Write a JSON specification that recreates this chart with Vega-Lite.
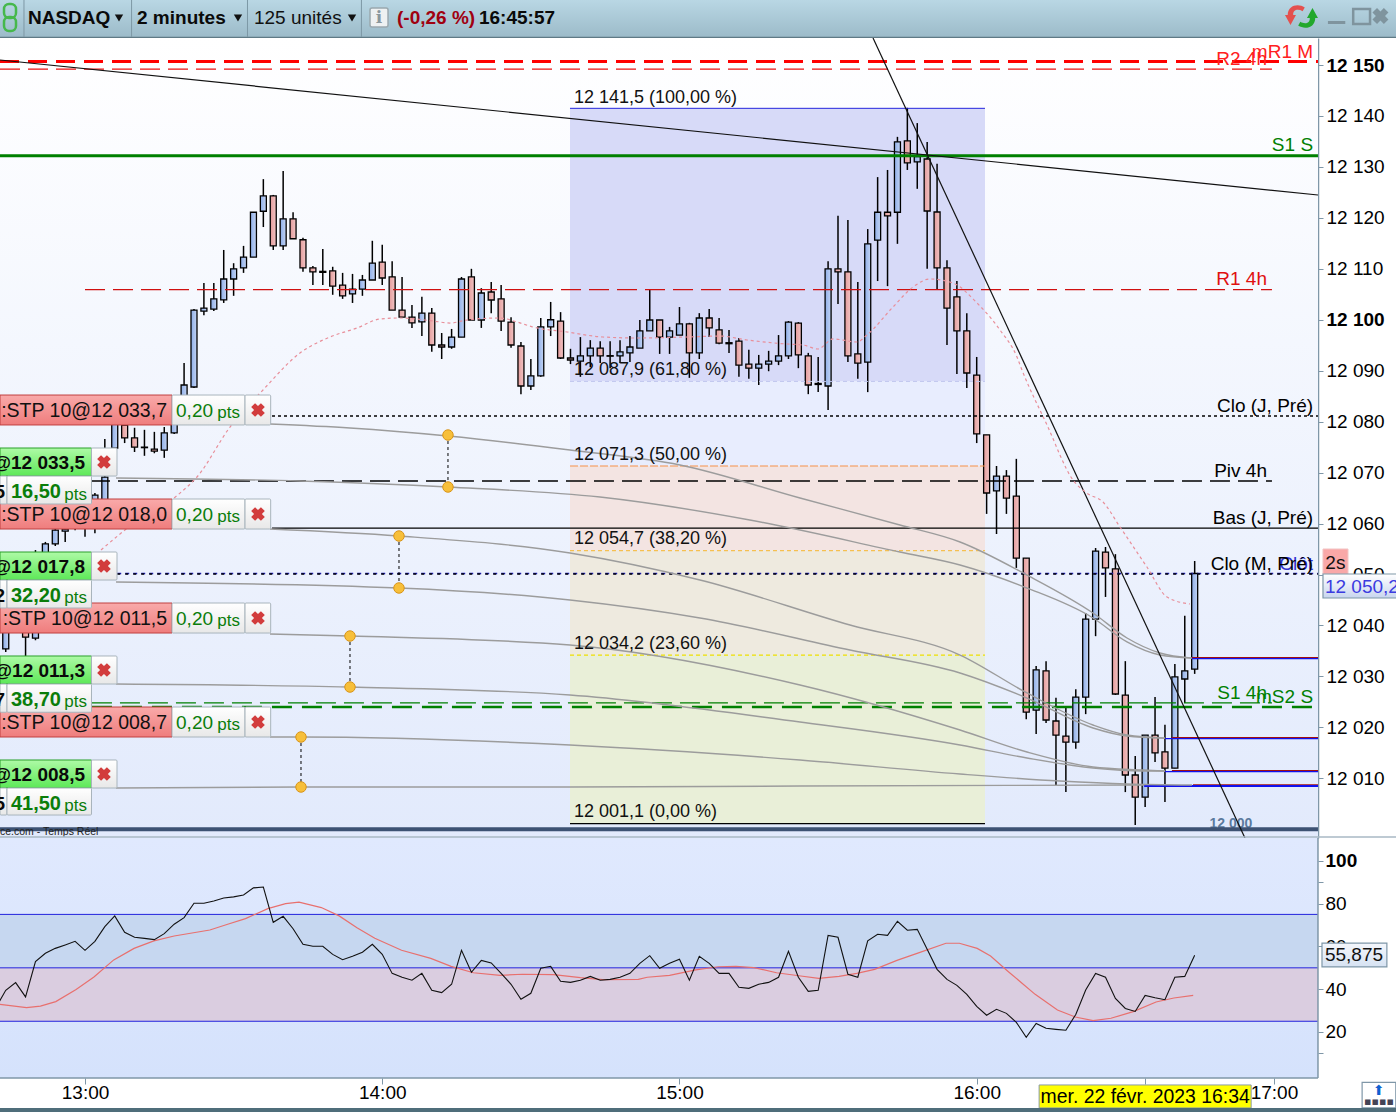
{"$schema":"https://vega.github.io/schema/vega-lite/v6.json","padding":0,"spacing":0,"bounds":"flush","background":"white",
"resolve":{"scale":{"color":"independent","strokeWidth":"independent","strokeDash":"independent"}},
"config":{"view":{"stroke":null},"font":"Liberation Sans","text":{"font":"Liberation Sans","fontSize":19},"axis":{"labelFont":"Liberation Sans"}},
"datasets":{
"candles":[
{"m":764,"o":12035.4,"h":12039.5,"l":12034.8,"c":12038.7},{"m":766,"o":12043.0,"h":12043.8,"l":12038.7,"c":12039.1},{"m":768,"o":12038.7,"h":12041.1,"l":12034.0,"c":12037.7},{"m":770,"o":12037.5,"h":12054.8,"l":12037.1,"c":12040.1},{"m":772,"o":12045.0,"h":12056.4,"l":12044.0,"c":12056.0},{"m":774,"o":12056.0,"h":12059.7,"l":12055.6,"c":12058.7},{"m":776,"o":12058.5,"h":12061.7,"l":12056.4,"c":12058.9},{"m":778,"o":12062.7,"h":12063.6,"l":12058.7,"c":12059.7},{"m":780,"o":12063.6,"h":12064.6,"l":12057.4,"c":12059.7},{"m":782,"o":12060.7,"h":12066.0,"l":12058.1,"c":12065.6},{"m":784,"o":12062.7,"h":12076.6,"l":12061.7,"c":12069.1},{"m":786,"o":12074.8,"h":12082.1,"l":12074.4,"c":12080.7},{"m":788,"o":12079.35,"h":12080.3,"l":12075.8,"c":12076.8},{"m":790,"o":12076.8,"h":12078.8,"l":12074.05,"c":12075.0},{"m":792,"o":12075.0,"h":12078.4,"l":12073.3,"c":12074.9},{"m":794,"o":12074.6,"h":12078.0,"l":12073.8,"c":12074.2},{"m":796,"o":12074.4,"h":12078.95,"l":12072.9,"c":12077.8},{"m":798,"o":12077.8,"h":12080.7,"l":12077.6,"c":12079.7},{"m":800,"o":12084.25,"h":12091.5,"l":12083.9,"c":12087.2},
{"m":802,"o":12086.8,"h":12102.1,"l":12086.6,"c":12101.9},{"m":804,"o":12101.7,"h":12107.2,"l":12100.9,"c":12102.3},{"m":806,"o":12102.1,"h":12107.2,"l":12101.7,"c":12104.1},{"m":808,"o":12103.9,"h":12113.7,"l":12103.3,"c":12108.0},{"m":810,"o":12108.0,"h":12111.1,"l":12104.7,"c":12110.0},{"m":812,"o":12110.2,"h":12114.5,"l":12109.2,"c":12112.3},{"m":814,"o":12112.3,"h":12121.1,"l":12112.3,"c":12121.1},{"m":816,"o":12121.3,"h":12127.6,"l":12118.2,"c":12124.3},{"m":818,"o":12124.3,"h":12124.5,"l":12113.7,"c":12114.5},{"m":820,"o":12114.5,"h":12129.2,"l":12113.7,"c":12119.8},{"m":822,"o":12119.8,"h":12121.1,"l":12115.9,"c":12115.9},{"m":824,"o":12115.7,"h":12116.1,"l":12109.4,"c":12110.2},{"m":826,"o":12110.2,"h":12110.55,"l":12106.8,"c":12109.4},{"m":828,"o":12109.5,"h":12113.9,"l":12106.8,"c":12109.3},{"m":830,"o":12109.6,"h":12110.4,"l":12104.9,"c":12106.6},{"m":832,"o":12106.8,"h":12109.2,"l":12104.1,"c":12104.7},{"m":834,"o":12105.1,"h":12109.0,"l":12103.3,"c":12106.0},{"m":836,"o":12106.0,"h":12108.8,"l":12104.7,"c":12107.8},{"m":838,"o":12107.8,"h":12115.5,"l":12107.8,"c":12111.1},{"m":840,"o":12111.3,"h":12114.7,"l":12106.8,"c":12108.2},{"m":842,"o":12108.4,"h":12111.5,"l":12101.9,"c":12101.9},{"m":844,"o":12101.9,"h":12108.4,"l":12100.5,"c":12100.5},{"m":846,"o":12100.5,"h":12102.9,"l":12098.4,"c":12099.4},{"m":848,"o":12099.6,"h":12104.5,"l":12096.8,"c":12101.3},{"m":850,"o":12101.3,"h":12102.3,"l":12093.7,"c":12095.05},{"m":852,"o":12095.05,"h":12097.4,"l":12092.3,"c":12094.65},{"m":854,"o":12094.65,"h":12098.2,"l":12094.3,"c":12096.6},{"m":856,"o":12096.6,"h":12108.4,"l":12096.6,"c":12108.0},{"m":858,"o":12108.4,"h":12110.0,"l":12099.95,"c":12099.95},{"m":860,"o":12099.95,"h":12106.2,"l":12098.4,"c":12105.25},{"m":862,"o":12105.45,"h":12107.4,"l":12101.3,"c":12103.88},{"m":864,"o":12104.1,"h":12106.8,"l":12097.8,"c":12099.75},{"m":866,"o":12099.55,"h":12100.5,"l":12094.5,"c":12095.05},{"m":868,"o":12094.85,"h":12095.65,"l":12085.4,"c":12087.0},{"m":870,"o":12087.0,"h":12092.3,"l":12086.2,"c":12089.0},{"m":872,"o":12089.0,"h":12100.35,"l":12088.8,"c":12098.6},{"m":874,"o":12098.6,"h":12103.5,"l":12096.8,"c":12100.0},{"m":876,"o":12099.75,"h":12101.5,"l":12092.3,"c":12092.5},{"m":878,"o":12092.5,"h":12094.3,"l":12091.3,"c":12092.1},{"m":880,"o":12091.9,"h":12096.6,"l":12088.8,"c":12092.9},{"m":882,"o":12092.9,"h":12096.0,"l":12090.7,"c":12094.45},{"m":884,"o":12094.45,"h":12095.8,"l":12091.5,"c":12092.9},{"m":886,"o":12092.95,"h":12095.8,"l":12090.5,"c":12092.85},{"m":888,"o":12092.9,"h":12096.0,"l":12091.5,"c":12093.7},{"m":890,"o":12093.5,"h":12096.8,"l":12091.7,"c":12094.65},{"m":892,"o":12094.45,"h":12099.95,"l":12094.45,"c":12097.8},{"m":894,"o":12097.8,"h":12106.0,"l":12097.8,"c":12099.95},{"m":896,"o":12099.95,"h":12099.95,"l":12093.3,"c":12096.6},{"m":898,"o":12096.6,"h":12098.6,"l":12093.3,"c":12097.8},{"m":900,"o":12097.0,"h":12102.5,"l":12097.0,"c":12099.2},{"m":902,"o":12099.2,"h":12099.4,"l":12088.6,"c":12093.5},{"m":904,"o":12093.5,"h":12101.3,"l":12092.3,"c":12100.35},{"m":906,"o":12100.35,"h":12102.1,"l":12096.6,"c":12098.4},{"m":908,"o":12098.0,"h":12100.35,"l":12095.2,"c":12095.4},{"m":910,"o":12095.5,"h":12098.0,"l":12093.5,"c":12095.3},{"m":912,"o":12095.8,"h":12096.4,"l":12088.8,"c":12091.1},{"m":914,"o":12091.3,"h":12094.1,"l":12088.4,"c":12090.5},{"m":916,"o":12090.5,"h":12093.1,"l":12087.2,"c":12091.3},{"m":918,"o":12091.3,"h":12093.9,"l":12089.9,"c":12091.9},{"m":920,"o":12091.9,"h":12097.0,"l":12091.1,"c":12092.9},{"m":922,"o":12092.9,"h":12099.75,"l":12092.3,"c":12099.55},{"m":924,"o":12099.35,"h":12099.55,"l":12090.5,"c":12093.1},{"m":926,"o":12092.9,"h":12093.5,"l":12085.4,"c":12087.2},{"m":928,"o":12087.5,"h":12092.7,"l":12085.8,"c":12087.3},{"m":930,"o":12087.0,"h":12111.5,"l":12082.3,"c":12110.0},{"m":932,"o":12110.0,"h":12120.4,"l":12103.1,"c":12109.4},{"m":934,"o":12109.4,"h":12119.6,"l":12091.7,"c":12092.9},{"m":936,"o":12093.3,"h":12107.4,"l":12088.4,"c":12091.5},{"m":938,"o":12091.7,"h":12117.8,"l":12085.8,"c":12114.9},{"m":940,"o":12115.65,"h":12128.0,"l":12107.6,"c":12121.1},{"m":942,"o":12121.1,"h":12129.4,"l":12106.6,"c":12120.4},{"m":944,"o":12121.1,"h":12135.9,"l":12114.9,"c":12134.9},{"m":946,"o":12135.1,"h":12141.6,"l":12129.4,"c":12130.8},{"m":948,"o":12131.0,"h":12138.6,"l":12125.7,"c":12132.0},{"m":950,"o":12131.55,"h":12134.9,"l":12110.0,"c":12121.35},{"m":952,"o":12121.15,"h":12130.6,"l":12106.0,"c":12110.2},{"m":954,"o":12110.2,"h":12111.7,"l":12095.05,"c":12102.3},{"m":956,"o":12104.5,"h":12107.6,"l":12089.35,"c":12097.8},{"m":958,"o":12097.8,"h":12101.3,"l":12086.6,"c":12089.55},{"m":960,"o":12089.15,"h":12092.7,"l":12075.8,"c":12077.6},{"m":962,"o":12077.4,"h":12077.4,"l":12061.9,"c":12066.0},{"m":964,"o":12066.4,"h":12071.3,"l":12057.95,"c":12069.3},{"m":966,"o":12069.3,"h":12070.5,"l":12061.9,"c":12065.0},{"m":968,"o":12065.4,"h":12072.7,"l":12051.3,"c":12053.2},{"m":970,"o":12053.2,"h":12053.2,"l":12021.6,"c":12023.0},{"m":972,"o":12023.4,"h":12032.05,"l":12018.7,"c":12031.3},{"m":974,"o":12031.1,"h":12033.0,"l":12020.85,"c":12021.45},{"m":976,"o":12021.25,"h":12025.8,"l":12008.7,"c":12018.5},{"m":978,"o":12018.3,"h":12023.8,"l":12007.3,"c":12017.1},{"m":980,"o":12017.1,"h":12027.5,"l":12015.8,"c":12025.95},{"m":982,"o":12025.95,"h":12042.45,"l":12022.6,"c":12041.25},{"m":984,"o":12041.25,"h":12055.2,"l":12037.9,"c":12054.6},{"m":986,"o":12054.4,"h":12055.4,"l":12045.6,"c":12051.3},{"m":988,"o":12051.1,"h":12054.0,"l":12026.35,"c":12026.55},{"m":990,"o":12026.35,"h":12033.0,"l":12007.3,"c":12010.65},{"m":992,"o":12010.65,"h":12014.4,"l":12000.85,"c":12006.3},{"m":994,"o":12006.3,"h":12018.5,"l":12004.35,"c":12018.5},{"m":996,"o":12018.5,"h":12025.95,"l":12013.2,"c":12015.0},{"m":998,"o":12015.2,"h":12020.5,"l":12005.35,"c":12012.0},{"m":1000,"o":12012.0,"h":12032.45,"l":12012.0,"c":12029.9},{"m":1002,"o":12029.5,"h":12041.9,"l":12024.8,"c":12031.1},{"m":1004,"o":12031.45,"h":12052.65,"l":12030.5,"c":12050.2}],
"levels":[
{"name":"mR1 M","m":762.84,"m2":1028.89,"p":12150.7},{"name":"R2 4h","m":762.84,"m2":1019.6,"p":12149.2},{"name":"S1 S","m":762.84,"m2":1028.89,"p":12132.2},{"name":"R1 4h","m":780,"m2":1019.6,"p":12105.9},{"name":"Clo J","m":817.75,"m2":1028.89,"p":12081.1},{"name":"Piv 4h","m":781,"m2":1019.6,"p":12068.35},{"name":"Bas J","m":817.75,"m2":1028.89,"p":12059.1},{"name":"Clot","m":786.5,"m2":1028.89,"p":12050.2},{"name":"Clo M","m":786.5,"m2":1028.89,"p":12050.1},{"name":"S1 4h","m":781.4,"m2":1019.6,"p":12024.8},{"name":"mS2 S","m":781.4,"m2":1028.89,"p":12024.0},{"name":"base","m":762.84,"m2":1028.89,"p":12000.0},
{"name":"fib100","m":877.9,"m2":961.67,"p":12141.5},{"name":"fib618","m":877.9,"m2":961.67,"p":12087.9},{"name":"fib50","m":877.9,"m2":961.67,"p":12071.3},{"name":"fib382","m":877.9,"m2":961.67,"p":12054.7},{"name":"fib236","m":877.9,"m2":961.67,"p":12034.2},{"name":"fib0","m":877.9,"m2":961.67,"p":12001.1},
{"name":"o1r","m":1003.46,"m2":1028.89,"p":12033.7},{"name":"o1b","m":1003.46,"m2":1028.89,"p":12033.5},{"name":"o2r","m":999.4,"m2":1028.89,"p":12018.0},{"name":"o2b","m":998,"m2":1028.89,"p":12017.8},{"name":"o3r","m":999.4,"m2":1028.89,"p":12011.5},{"name":"o3b","m":998,"m2":1028.89,"p":12011.3},{"name":"o4r","m":1003.66,"m2":1028.89,"p":12008.7},{"name":"o4b","m":993.8,"m2":1028.89,"p":12008.5}],
"curves":[
{"id":"A","m":817.34,"p":12079.54},{"id":"A","m":833.49,"p":12078.76},{"id":"A","m":853.27,"p":12077.19},{"id":"A","m":877.9,"p":12074.44},{"id":"A","m":900.1,"p":12071.5},{"id":"A","m":924.33,"p":12065.02},{"id":"A","m":944.5,"p":12059.72},{"id":"A","m":956.63,"p":12056.38},{"id":"A","m":970.15,"p":12049.9},{"id":"A","m":983.48,"p":12042.45},{"id":"A","m":990.34,"p":12037.54},{"id":"A","m":997.0,"p":12034.6},{"id":"A","m":1003.46,"p":12033.6},
{"id":"B","m":786.26,"p":12068.94},{"id":"B","m":823.4,"p":12068.35},{"id":"B","m":853.27,"p":12067.18},{"id":"B","m":883.96,"p":12065.21},{"id":"B","m":914.2,"p":12060.7},{"id":"B","m":944.5,"p":12054.42},{"id":"B","m":956.63,"p":12051.87},{"id":"B","m":970.15,"p":12047.35},{"id":"B","m":983.48,"p":12041.47},{"id":"B","m":990.34,"p":12036.76},{"id":"B","m":997.0,"p":12034.2},{"id":"B","m":1003.46,"p":12033.6},
{"id":"C","m":817.34,"p":12058.93},{"id":"C","m":843.38,"p":12057.56},{"id":"C","m":877.9,"p":12054.22},{"id":"C","m":904.14,"p":12048.92},{"id":"C","m":934.42,"p":12040.09},{"id":"C","m":956.63,"p":12034.2},{"id":"C","m":970.15,"p":12026.75},{"id":"C","m":983.48,"p":12020.47},{"id":"C","m":990.34,"p":12018.5},{"id":"C","m":998.0,"p":12017.9},
{"id":"D","m":786.26,"p":12048.53},{"id":"D","m":843.38,"p":12047.36},{"id":"D","m":877.9,"p":12045.0},{"id":"D","m":904.14,"p":12041.47},{"id":"D","m":934.42,"p":12035.18},{"id":"D","m":956.63,"p":12030.67},{"id":"D","m":970.15,"p":12025.76},{"id":"D","m":983.48,"p":12019.88},{"id":"D","m":990.34,"p":12018.3},{"id":"D","m":998.0,"p":12017.9},
{"id":"E","m":817.34,"p":12038.33},{"id":"E","m":833.49,"p":12037.93},{"id":"E","m":877.9,"p":12036.17},{"id":"E","m":924.33,"p":12028.32},{"id":"E","m":956.63,"p":12019.48},{"id":"E","m":970.15,"p":12015.16},{"id":"E","m":983.48,"p":12012.22},{"id":"E","m":993.57,"p":12011.63},{"id":"E","m":998.0,"p":12011.43},
{"id":"F","m":786.26,"p":12028.51},{"id":"F","m":833.49,"p":12027.92},{"id":"F","m":877.9,"p":12026.36},{"id":"F","m":924.33,"p":12021.05},{"id":"F","m":956.63,"p":12016.54},{"id":"F","m":970.15,"p":12013.99},{"id":"F","m":983.48,"p":12012.03},{"id":"F","m":993.57,"p":12011.43},{"id":"F","m":998.0,"p":12011.43},
{"id":"G","m":817.34,"p":12018.11},{"id":"G","m":823.6,"p":12018.11},{"id":"G","m":877.9,"p":12016.54},{"id":"G","m":924.33,"p":12013.6},{"id":"G","m":956.63,"p":12010.85},{"id":"G","m":976.81,"p":12009.47},{"id":"G","m":990.34,"p":12008.88},{"id":"G","m":1003.46,"p":12008.69},
{"id":"H","m":786.26,"p":12008.1},{"id":"H","m":823.6,"p":12008.3},{"id":"H","m":877.9,"p":12008.3},{"id":"H","m":924.33,"p":12008.49},{"id":"H","m":993.77,"p":12008.69}],
"ma":[{"m":783.23,"p":12054.81},{"m":788.07,"p":12058.74},{"m":799.17,"p":12065.98},{"m":802.6,"p":12069.14},{"m":809.27,"p":12078.95},{"m":815.93,"p":12086.22},{"m":823.4,"p":12093.48},{"m":829.45,"p":12096.62},{"m":834.9,"p":12098.38},{"m":839.55,"p":12100.15},{"m":843.58,"p":12100.35},{"m":850.25,"p":12099.76},{"m":853.68,"p":12099.36},{"m":857.11,"p":12099.95},{"m":863.77,"p":12100.35},{"m":867.2,"p":12099.56},{"m":870.43,"p":12098.58},{"m":877.3,"p":12097.6},{"m":884.56,"p":12096.62},{"m":891.43,"p":12096.42},{"m":901.52,"p":12096.62},{"m":908.18,"p":12096.81},{"m":913.63,"p":12096.03},{"m":921.7,"p":12095.24},{"m":924.93,"p":12095.05},{"m":927.96,"p":12094.26},{"m":930.99,"p":12096.23},{"m":935.83,"p":12095.64},{"m":937.85,"p":12097.01},{"m":943.1,"p":12102.51},{"m":947.14,"p":12106.43},{"m":950.57,"p":12108.0},{"m":955.2,"p":12107.22},{"m":960.06,"p":12103.29},{"m":964.7,"p":12098.0},{"m":968.13,"p":12092.69},{"m":969.14,"p":12090.14},{"m":974.19,"p":12079.35},{"m":979.44,"p":12068.55},{"m":982.26,"p":12065.96},{"m":985.49,"p":12064.23},{"m":988.92,"p":12059.33},{"m":994.37,"p":12051.47},{"m":998.41,"p":12045.59},{"m":1003.05,"p":12044.21}],
"rsi":[{"m":762,"p":31.4},{"m":764,"p":39.5},{"m":766,"p":43.1},{"m":768,"p":36.4},{"m":770,"p":52.9},{"m":772,"p":56.8},{"m":774,"p":59.1},{"m":776,"p":60.7},{"m":778,"p":62.4},{"m":780,"p":58.2},{"m":782,"p":62.4},{"m":784,"p":69.3},{"m":786,"p":74.3},{"m":788,"p":66.6},{"m":790,"p":64.3},{"m":792,"p":63.8},{"m":794,"p":63.2},{"m":796,"p":66.0},{"m":798,"p":70.4},{"m":800,"p":73.5},{"m":802,"p":80.2},{"m":804,"p":80.2},{"m":806,"p":81.3},{"m":808,"p":82.7},{"m":810,"p":83.2},{"m":812,"p":84.1},{"m":814,"p":87.4},{"m":816,"p":87.8},{"m":818,"p":71.3},{"m":820,"p":74.1},{"m":822,"p":68.3},{"m":824,"p":61.0},{"m":826,"p":60.1},{"m":828,"p":60.1},{"m":830,"p":56.3},{"m":832,"p":53.8},{"m":834,"p":55.4},{"m":836,"p":57.3},{"m":838,"p":61.0},{"m":840,"p":56.3},{"m":842,"p":47.4},{"m":844,"p":45.6},{"m":846,"p":44.2},{"m":848,"p":47.4},{"m":850,"p":39.5},{"m":852,"p":38.4},{"m":854,"p":42.3},{"m":856,"p":58.2},{"m":858,"p":47.9},{"m":860,"p":53.5},{"m":862,"p":52.3},{"m":864,"p":47.4},{"m":866,"p":42.3},{"m":868,"p":35.3},{"m":870,"p":38.1},{"m":872,"p":49.8},{"m":874,"p":50.7},{"m":876,"p":43.7},{"m":878,"p":43.2},{"m":880,"p":44.2},{"m":882,"p":46.0},{"m":884,"p":44.2},{"m":886,"p":44.6},{"m":888,"p":45.6},{"m":890,"p":47.4},{"m":892,"p":52.1},{"m":894,"p":55.7},{"m":896,"p":49.8},{"m":898,"p":52.1},{"m":900,"p":54.0},{"m":902,"p":44.2},{"m":904,"p":55.4},{"m":906,"p":52.1},{"m":908,"p":47.4},{"m":910,"p":47.4},{"m":912,"p":40.9},{"m":914,"p":40.4},{"m":916,"p":42.3},{"m":918,"p":43.2},{"m":920,"p":45.6},{"m":922,"p":57.7},{"m":924,"p":45.6},{"m":926,"p":39.0},{"m":928,"p":39.5},{"m":930,"p":65.2},{"m":932,"p":64.3},{"m":934,"p":47.0},{"m":936,"p":45.6},{"m":938,"p":62.6},{"m":940,"p":65.7},{"m":942,"p":65.2},{"m":944,"p":71.8},{"m":946,"p":67.6},{"m":948,"p":68.0},{"m":950,"p":58.7},{"m":952,"p":49.3},{"m":954,"p":44.6},{"m":956,"p":41.8},{"m":958,"p":37.6},{"m":960,"p":32.0},{"m":962,"p":27.8},{"m":964,"p":30.6},{"m":966,"p":28.7},{"m":968,"p":24.5},{"m":970,"p":17.5},{"m":972,"p":24.0},{"m":974,"p":21.7},{"m":976,"p":21.2},{"m":978,"p":20.8},{"m":980,"p":28.2},{"m":982,"p":39.6},{"m":984,"p":47.4},{"m":986,"p":45.6},{"m":988,"p":35.7},{"m":990,"p":31.0},{"m":992,"p":29.6},{"m":994,"p":37.1},{"m":996,"p":36.0},{"m":998,"p":35.1},{"m":1000,"p":45.6},{"m":1002,"p":46.0},{"m":1004,"p":55.875}],
"rsiMa":[{"m":762.8,"p":32.9},{"m":768.2,"p":31.4},{"m":771.0,"p":32.1},{"m":774.1,"p":34.2},{"m":778.2,"p":39.9},{"m":781.8,"p":45.7},{"m":785.8,"p":53.7},{"m":789.9,"p":59.1},{"m":793.9,"p":62.6},{"m":798.0,"p":64.9},{"m":801.6,"p":66.3},{"m":805.2,"p":67.7},{"m":808.8,"p":70.4},{"m":812.4,"p":73.0},{"m":816.9,"p":77.7},{"m":820.5,"p":80.0},{"m":823.2,"p":80.7},{"m":827.7,"p":78.2},{"m":831.3,"p":74.3},{"m":834.9,"p":68.8},{"m":838.5,"p":63.8},{"m":843.9,"p":58.2},{"m":849.8,"p":54.4},{"m":853.9,"p":50.7},{"m":858.4,"p":47.7},{"m":863.8,"p":46.5},{"m":868.3,"p":47.0},{"m":874.6,"p":46.8},{"m":880.0,"p":45.4},{"m":884.5,"p":44.5},{"m":891.7,"p":44.6},{"m":893.5,"p":45.6},{"m":898.0,"p":46.5},{"m":903.3,"p":49.0},{"m":907.8,"p":50.5},{"m":911.4,"p":50.7},{"m":915.0,"p":50.1},{"m":919.6,"p":47.7},{"m":924.1,"p":46.3},{"m":928.1,"p":45.1},{"m":932.2,"p":46.0},{"m":935.8,"p":47.4},{"m":939.4,"p":49.3},{"m":943.9,"p":53.5},{"m":948.4,"p":57.1},{"m":953.8,"p":61.5},{"m":956.5,"p":61.5},{"m":960.1,"p":59.1},{"m":962.8,"p":55.5},{"m":966.4,"p":48.2},{"m":971.8,"p":37.6},{"m":976.3,"p":30.3},{"m":979.9,"p":27.0},{"m":983.5,"p":25.3},{"m":987.1,"p":26.4},{"m":991.6,"p":29.5},{"m":996.2,"p":34.0},{"m":999.8,"p":35.9},{"m":1003.7,"p":37.1}]
},
"vconcat":[
{"width":1396,"height":38,
"encoding":{"x":{"field":"m","type":"quantitative","scale":{"domain":[762.84,1044.64],"nice":false,"zero":false},"axis":null},"y":{"field":"v","type":"quantitative","scale":{"domain":[38,0],"nice":false,"zero":false},"axis":null}},
"layer":[
{"data":{"values":[{"m":762.84,"m2":1044.64,"v":0,"v2":37}]},"mark":{"type":"rect","fill":{"gradient":"linear","x1":0,"y1":0,"x2":0,"y2":1,"stops":[{"offset":0,"color":"#b9d7e4"},{"offset":1,"color":"#9cbbc9"}]}},"encoding":{"x2":{"field":"m2"},"y2":{"field":"v2"}}},
{"data":{"values":[{"m":762.84,"m2":1044.64,"v":37.5}]},"mark":{"type":"rule","color":"#5f7a85","strokeWidth":1.5,"clip":true},"encoding":{"x2":{"field":"m2"}}},
{"data":{"values":[{"m":767.68,"v":0,"v2":37},{"m":789.4,"v":0,"v2":37},{"m":812.8,"v":0,"v2":37},{"m":835.8,"v":0,"v2":37}]},"mark":{"type":"rule","color":"#7d98a5","strokeWidth":1,"clip":true},"encoding":{"y2":{"field":"v2"}}},
{"data":{"values":[{"m":763.65,"m2":766.07,"v":4,"v2":18},{"m":763.65,"m2":766.07,"v":17,"v2":31}]},"mark":{"type":"rect","fillOpacity":0,"stroke":"#46b84c","strokeWidth":2.5,"cornerRadius":5},"encoding":{"x2":{"field":"m2"},"y2":{"field":"v2"}}},
{"data":{"values":[{"t":"NASDAQ","m":768.49,"v":18},{"t":"2 minutes","m":790.5,"v":18},{"t":"16:45:57","m":859.53,"v":18}]},"mark":{"type":"text","align":"left","baseline":"middle","fontWeight":"bold","fontSize":19,"color":"#0a0a0a"},"encoding":{"text":{"field":"t"}}},
{"data":{"values":[{"t":"125 unités","m":814.11,"v":18}]},"mark":{"type":"text","align":"left","baseline":"middle","fontSize":19,"color":"#111"},"encoding":{"text":{"field":"t"}}},
{"data":{"values":[{"t":"(-0,26 %)","m":842.98,"v":18}]},"mark":{"type":"text","align":"left","baseline":"middle","fontWeight":"bold","fontSize":19,"color":"#a00010"},"encoding":{"text":{"field":"t"}}},
{"data":{"values":[{"m":786.86,"v":18},{"m":810.88,"v":18},{"m":833.9,"v":18}]},"mark":{"type":"point","shape":"triangle-down","filled":true,"size":70,"color":"#111","opacity":1}},
{"data":{"values":[{"m":837.53,"m2":841.17,"v":8,"v2":27}]},"mark":{"type":"rect","fill":"#eef1f2","stroke":"#9aa8ae","strokeWidth":1.5,"cornerRadius":2},"encoding":{"x2":{"field":"m2"},"y2":{"field":"v2"}}},
{"data":{"values":[{"t":"i","m":839.35,"v":18}]},"mark":{"type":"text","align":"center","baseline":"middle","fontWeight":"bold","fontSize":17,"font":"DejaVu Serif","color":"#8a979d"},"encoding":{"text":{"field":"t"}}},
{"data":{"values":[{"m":1024.45,"v":14}]},"mark":{"type":"point","shape":"M-1,0.1 L0,0.1 L-0.5,1 Z M-0.75,0.1 C-0.75,-0.8 0.2,-1 0.8,-0.6 L0.6,-0.25 C0.2,-0.5 -0.3,-0.4 -0.25,0.1 Z","filled":true,"size":484,"color":"#e4504e","opacity":1}},
{"data":{"values":[{"m":1026.67,"v":19}]},"mark":{"type":"point","shape":"M1,-0.1 L0,-0.1 L0.5,-1 Z M0.75,-0.1 C0.75,0.8 -0.2,1 -0.8,0.6 L-0.6,0.25 C-0.2,0.5 0.3,0.4 0.25,-0.1 Z","filled":true,"size":484,"color":"#22a82c","opacity":1}},
{"data":{"values":[{"m":1030.9,"m2":1034.4,"v":21,"v2":24}]},"mark":{"type":"rect","fill":"#7f949e"},"encoding":{"x2":{"field":"m2"},"y2":{"field":"v2"}}},
{"data":{"values":[{"m":1036.0,"m2":1039.4,"v":9,"v2":24}]},"mark":{"type":"rect","fillOpacity":0,"stroke":"#7f949e","strokeWidth":2.5},"encoding":{"x2":{"field":"m2"},"y2":{"field":"v2"}}},
{"data":{"values":[{"m":1041.5,"v":16}]},"mark":{"type":"point","shape":"cross","angle":45,"filled":true,"size":260,"color":"#7f949e","opacity":1}}
]},
{"width":1396,"height":800,
"resolve":{"scale":{"color":"independent","strokeWidth":"independent","strokeDash":"independent"}},
"encoding":{"x":{"field":"m","type":"quantitative","scale":{"domain":[762.84,1044.64],"nice":false,"zero":false,"padding":0},"axis":null},
"y":{"field":"p","type":"quantitative","scale":{"domain":[11998.29,12155.3],"nice":false,"zero":false},"axis":{"orient":"right","offset":-78,"title":null,"grid":false,"values":[12010,12020,12030,12040,12050,12060,12070,12080,12090,12100,12110,12120,12130,12140,12150],"labelExpr":"'12 ' + format(datum.value-12000,'03d')","labelFontSize":19,"labelColor":"#000","labelPadding":3,"labelOverlap":false,"labelBound":false,"labelFlush":false,"labelFontWeight":{"condition":{"test":"datum.value==12150||datum.value==12100","value":"bold"},"value":"normal"},"tickColor":"#7f97a8","tickSize":5,"domainColor":"#7f97a8","domainWidth":1.5}}},
"layer":[
{"data":{"values":[{"m":762.84,"m2":1028.89,"p":12155.3,"p2":11998.29}]},"mark":{"type":"rect","fill":{"gradient":"linear","x1":0,"y1":0,"x2":0,"y2":1,"stops":[{"offset":0,"color":"#ffffff"},{"offset":1,"color":"#e2eafc"}]}},"encoding":{"x2":{"field":"m2"},"y2":{"field":"p2"}}},
{"data":{"values":[{"zone":"a","m":877.9,"m2":961.67,"p":12141.5,"p2":12087.9},{"zone":"b","m":877.9,"m2":961.67,"p":12087.9,"p2":12071.3},{"zone":"c","m":877.9,"m2":961.67,"p":12071.3,"p2":12054.7},{"zone":"d","m":877.9,"m2":961.67,"p":12054.7,"p2":12034.2},{"zone":"e","m":877.9,"m2":961.67,"p":12034.2,"p2":12001.1}]},"mark":{"type":"rect"},"encoding":{"x2":{"field":"m2"},"y2":{"field":"p2"},"color":{"field":"zone","type":"nominal","legend":null,"scale":{"domain":["a","b","c","d","e"],"range":["#d7daf8","#e8edfe","#f3e4e2","#eeeadf","#e9efd8"]}}}},
{"data":{"values":[{"t":"12 000","m":1011.3,"p":12000.98}]},"mark":{"type":"text","align":"center","baseline":"middle","fontWeight":"bold","fontSize":14,"color":"#5b7a9e"},"encoding":{"text":{"field":"t"}}},
{"data":{"name":"candles"},"mark":{"type":"rule","color":"#000","strokeWidth":1.5},"encoding":{"y":{"field":"l","type":"quantitative","scale":{"domain":[11998.29,12155.3],"nice":false,"zero":false}},"y2":{"field":"h"}}},
{"data":{"name":"candles"},"transform":[{"filter":"datum.c>=datum.o"}],"mark":{"type":"bar","size":6,"orient":"vertical","stroke":"#000","strokeWidth":1.3,"fill":{"gradient":"linear","x1":0,"y1":0,"x2":1,"y2":0,"stops":[{"offset":0,"color":"#8eaee8"},{"offset":1,"color":"#c3d4f4"}]}},"encoding":{"y":{"field":"o","type":"quantitative","scale":{"domain":[11998.29,12155.3],"nice":false,"zero":false}},"y2":{"field":"c"}}},
{"data":{"name":"candles"},"transform":[{"filter":"datum.c<datum.o"}],"mark":{"type":"bar","size":6,"orient":"vertical","stroke":"#000","strokeWidth":1.3,"fill":{"gradient":"linear","x1":0,"y1":0,"x2":1,"y2":0,"stops":[{"offset":0,"color":"#e39b9b"},{"offset":1,"color":"#f2c4c4"}]}},"encoding":{"y":{"field":"o","type":"quantitative","scale":{"domain":[11998.29,12155.3],"nice":false,"zero":false}},"y2":{"field":"c"}}},
{"data":{"name":"levels"},"mark":{"type":"rule","clip":true},"encoding":{"x2":{"field":"m2"},
"color":{"field":"name","type":"nominal","legend":null,"scale":{"domain":["mR1 M","R2 4h","S1 S","R1 4h","Clo J","Piv 4h","Bas J","Clot","Clo M","S1 4h","mS2 S","base","fib100","fib618","fib50","fib382","fib236","fib0","o1r","o1b","o2r","o2b","o3r","o3b","o4r","o4b"],"range":["#ff0000","#e81010","#008000","#d01010","#000000","#000000","#000000","#2020c0","#000000","#008000","#008000","#3d5273","#2222dd","#c0c5ee","#f5924a","#f5c050","#eee000","#000000","#a01010","#1010ee","#a01010","#1010ee","#a01010","#1010ee","#a01010","#1010ee"]}},
"strokeWidth":{"field":"name","type":"nominal","legend":null,"scale":{"type":"ordinal","domain":["mR1 M","R2 4h","S1 S","R1 4h","Clo J","Piv 4h","Bas J","Clot","Clo M","S1 4h","mS2 S","base","fib100","fib618","fib50","fib382","fib236","fib0","o1r","o1b","o2r","o2b","o3r","o3b","o4r","o4b"],"range":[3,1.2,3,1.2,1.4,1.4,1.4,1.4,1.4,1.3,2.5,4,1,1,1.2,1.2,1.2,1.2,1.2,1.2,1.2,1.2,1.2,1.2,1.3,2]}},
"strokeDash":{"field":"name","type":"nominal","legend":null,"scale":{"domain":["mR1 M","R2 4h","S1 S","R1 4h","Clo J","Piv 4h","Bas J","Clot","Clo M","S1 4h","mS2 S","base","fib100","fib618","fib50","fib382","fib236","fib0","o1r","o1b","o2r","o2b","o3r","o3b","o4r","o4b"],"range":[[19,9],[20,8],[1,0],[20,8],[3,3],[20,8],[1,0],[4,4],[3,5],[20,8],[20,10],[1,0],[1,0],[4,3],[8,2],[4,3],[4,3],[1,0],[1,0],[1,0],[1,0],[1,0],[1,0],[1,0],[1,0],[1,0]]}}}},
{"data":{"name":"curves"},"mark":{"type":"line","color":"#9c9c9c","strokeWidth":1.4,"interpolate":"monotone"},"encoding":{"detail":{"field":"id"}}},
{"data":{"values":[{"m":853.27,"p":12077.38,"p2":12067.18},{"m":843.38,"p":12057.56,"p2":12047.36},{"m":833.49,"p":12037.93,"p2":12027.92},{"m":823.6,"p":12018.11,"p2":12008.3}]},"mark":{"type":"rule","color":"#000","strokeWidth":1,"strokeDash":[3,3]},"encoding":{"y2":{"field":"p2"}}},
{"data":{"values":[{"m":853.27,"p":12077.38},{"m":853.27,"p":12067.18},{"m":843.38,"p":12057.56},{"m":843.38,"p":12047.36},{"m":833.49,"p":12037.93},{"m":833.49,"p":12027.92},{"m":823.6,"p":12018.11},{"m":823.6,"p":12008.3}]},"mark":{"type":"point","shape":"circle","filled":true,"size":110,"fill":"#f7bf3a","stroke":"#d9951a","strokeWidth":1,"opacity":1}},
{"data":{"values":[{"m":762.84,"m2":1028.89,"p":12150.98,"p2":12124.49},{"m":939.07,"m2":1014.15,"p":12155.3,"p2":11998.29}]},"mark":{"type":"rule","color":"#111","strokeWidth":1.2,"clip":true},"encoding":{"x2":{"field":"m2"},"y2":{"field":"p2"}}},
{"data":{"name":"ma"},"mark":{"type":"line","color":"#e88f9a","strokeWidth":1.2,"strokeDash":[3,3],"interpolate":"monotone"}},
{"data":{"values":[{"t":"12 141,5 (100,00 %)","m":878.7,"p":12143.6},{"t":"12 087,9 (61,80 %)","m":878.7,"p":12090.1},{"t":"12 071,3 (50,00 %)","m":878.7,"p":12073.4},{"t":"12 054,7 (38,20 %)","m":878.7,"p":12056.9},{"t":"12 034,2 (23,60 %)","m":878.7,"p":12036.3},{"t":"12 001,1 (0,00 %)","m":878.7,"p":12003.4}]},"mark":{"type":"text","align":"left","baseline":"middle","fontSize":18,"color":"#111"},"encoding":{"text":{"field":"t"}}},
{"data":{"values":[{"t":"mR1 M","m":1027.9,"p":12152.55},{"t":"R2 4h","m":1018.6,"p":12151.2},{"t":"S1 S","m":1027.9,"p":12134.3},{"t":"R1 4h","m":1018.6,"p":12108.0},{"t":"Clo (J, Pré)","m":1027.9,"p":12083.1},{"t":"Piv 4h","m":1018.6,"p":12070.3},{"t":"Bas (J, Pré)","m":1027.9,"p":12061.1},{"t":"Clôt","m":1027.9,"p":12052.1},{"t":"Clo (M, Pré)","m":1027.9,"p":12052.1},{"t":"S1 4h","m":1018.6,"p":12026.7},{"t":"mS2 S","m":1027.9,"p":12026.0}]},"mark":{"type":"text","align":"right","baseline":"middle","fontSize":19},"encoding":{"text":{"field":"t"},"color":{"field":"t","type":"nominal","legend":null,"scale":{"domain":["mR1 M","R2 4h","S1 S","R1 4h","Clo (J, Pré)","Piv 4h","Bas (J, Pré)","Clôt","Clo (M, Pré)","S1 4h","mS2 S"],"range":["#ff2020","#ff2020","#008000","#e01010","#000000","#000000","#000000","#3030d0","#000000","#008000","#008000"]}}}},
{"data":{"values":[{"t":"ce.com - Temps Réel","m":762.84,"p":11999.4}]},"mark":{"type":"text","align":"left","baseline":"middle","fontSize":10.5,"color":"#222","clip":true},"encoding":{"text":{"field":"t"}}},
{"data":{"values":[{"m":762.84,"m2":1044.64,"p":11998.5}]},"mark":{"type":"rule","color":"#a8b8c4","strokeWidth":1.5,"clip":true},"encoding":{"x2":{"field":"m2"}}},
{"data":{"values":[{"m":762.84,"m2":797.56,"p":12085.23,"p2":12079.35},{"m":762.84,"m2":797.56,"p":12064.82,"p2":12058.93},{"m":762.84,"m2":797.56,"p":12044.41,"p2":12038.52},{"m":762.84,"m2":797.56,"p":12024.0,"p2":12018.11}]},"mark":{"type":"rect","clip":true,"stroke":"#c04040","strokeWidth":1,"fill":{"gradient":"linear","x1":0,"y1":0,"x2":0,"y2":1,"stops":[{"offset":0,"color":"#f9aaaa"},{"offset":1,"color":"#ef7d7d"}]}},"encoding":{"x2":{"field":"m2"},"y2":{"field":"p2"}}},
{"data":{"values":[{"m":762.84,"m2":781.31,"p":12074.83,"p2":12069.33},{"m":762.84,"m2":781.31,"p":12054.42,"p2":12048.92},{"m":762.84,"m2":781.31,"p":12034.01,"p2":12028.51},{"m":762.84,"m2":781.31,"p":12013.6,"p2":12008.1}]},"mark":{"type":"rect","clip":true,"stroke":"#2aa02a","strokeWidth":1,"fill":{"gradient":"linear","x1":0,"y1":0,"x2":0,"y2":1,"stops":[{"offset":0,"color":"#aefaa6"},{"offset":1,"color":"#5de858"}]}},"encoding":{"x2":{"field":"m2"},"y2":{"field":"p2"}}},
{"data":{"values":[{"m":797.56,"m2":812.3,"p":12085.23,"p2":12079.35},{"m":812.3,"m2":817.48,"p":12085.23,"p2":12079.35},{"m":797.56,"m2":812.3,"p":12064.82,"p2":12058.93},{"m":812.3,"m2":817.48,"p":12064.82,"p2":12058.93},{"m":797.56,"m2":812.3,"p":12044.41,"p2":12038.52},{"m":812.3,"m2":817.48,"p":12044.41,"p2":12038.52},{"m":797.56,"m2":812.3,"p":12024.0,"p2":12018.11},{"m":812.3,"m2":817.48,"p":12024.0,"p2":12018.11},{"m":781.31,"m2":786.46,"p":12074.83,"p2":12069.33},{"m":781.31,"m2":786.46,"p":12054.42,"p2":12048.92},{"m":781.31,"m2":786.46,"p":12034.01,"p2":12028.51},{"m":781.31,"m2":786.46,"p":12013.6,"p2":12008.1},{"m":762.84,"m2":764.25,"p":12069.33,"p2":12063.84},{"m":764.25,"m2":781.31,"p":12069.33,"p2":12063.84},{"m":762.84,"m2":764.25,"p":12048.92,"p2":12043.43},{"m":764.25,"m2":781.31,"p":12048.92,"p2":12043.43},{"m":762.84,"m2":764.25,"p":12028.51,"p2":12022.97},{"m":764.25,"m2":781.31,"p":12028.51,"p2":12022.97},{"m":762.84,"m2":764.25,"p":12008.1,"p2":12002.8},{"m":764.25,"m2":781.31,"p":12008.1,"p2":12002.8}]},"mark":{"type":"rect","clip":true,"stroke":"#a8b4bc","strokeWidth":1,"cornerRadius":1,"fill":{"gradient":"linear","x1":0,"y1":0,"x2":0,"y2":1,"stops":[{"offset":0,"color":"#ffffff"},{"offset":1,"color":"#e8e8e8"}]}},"encoding":{"x2":{"field":"m2"},"y2":{"field":"p2"}}},
{"data":{"values":[{"m":814.92,"p":12082.29},{"m":814.92,"p":12061.88},{"m":814.92,"p":12041.47},{"m":814.92,"p":12021.05},{"m":783.83,"p":12072.08},{"m":783.83,"p":12051.67},{"m":783.83,"p":12031.26},{"m":783.83,"p":12010.85}]},"mark":{"type":"point","shape":"cross","angle":45,"filled":true,"size":190,"color":"#d23c3c","opacity":1}},
{"data":{"values":[{"t":":STP 10@12 033,7","m":796.55,"p":12082.09},{"t":":STP 10@12 018,0","m":796.55,"p":12061.68},{"t":":STP 10@12 011,5","m":796.55,"p":12041.27},{"t":":STP 10@12 008,7","m":796.55,"p":12020.85}]},"mark":{"type":"text","align":"right","baseline":"middle","fontSize":19.5,"color":"#111","clip":true},"encoding":{"text":{"field":"t"}}},
{"data":{"values":[{"t":"0,20","m":805.84,"p":12082.09},{"t":"0,20","m":805.84,"p":12061.68},{"t":"0,20","m":805.84,"p":12041.27},{"t":"0,20","m":805.84,"p":12020.85}]},"mark":{"type":"text","align":"right","baseline":"middle","fontSize":19,"color":"#0a7d0a"},"encoding":{"text":{"field":"t"}}},
{"data":{"values":[{"t":"pts","m":811.29,"p":12081.7},{"t":"pts","m":811.29,"p":12061.3},{"t":"pts","m":811.29,"p":12040.9},{"t":"pts","m":811.29,"p":12020.45},{"t":"pts","m":780.4,"p":12065.7},{"t":"pts","m":780.4,"p":12045.3},{"t":"pts","m":780.4,"p":12024.9},{"t":"pts","m":780.4,"p":12004.5}]},"mark":{"type":"text","align":"right","baseline":"middle","fontSize":17,"color":"#0a7d0a"},"encoding":{"text":{"field":"t"}}},
{"data":{"values":[{"t":"@12 033,5","m":780,"p":12071.88},{"t":"@12 017,8","m":780,"p":12051.47},{"t":"@12 011,3","m":780,"p":12031.06},{"t":"@12 008,5","m":780,"p":12010.65},{"t":"5","m":763.85,"p":12066.19},{"t":"2","m":763.85,"p":12045.78},{"t":"7","m":763.85,"p":12025.37},{"t":"5","m":763.85,"p":12004.96}]},"mark":{"type":"text","align":"right","baseline":"middle","fontSize":19,"fontWeight":"bold","color":"#0a0a0a","clip":true},"encoding":{"text":{"field":"t"}}},
{"data":{"values":[{"t":"16,50","m":775.15,"p":12066.19},{"t":"32,20","m":775.15,"p":12045.78},{"t":"38,70","m":775.15,"p":12025.37},{"t":"41,50","m":775.15,"p":12004.96}]},"mark":{"type":"text","align":"right","baseline":"middle","fontSize":20,"fontWeight":"bold","color":"#0a7d0a"},"encoding":{"text":{"field":"t"}}},
{"data":{"values":[{"m":1029.9,"m2":1034.95,"p":12055.01,"p2":12050.1}]},"mark":{"type":"rect","fill":"#f9a8a8","stroke":"#f2c4c4","strokeWidth":1},"encoding":{"x2":{"field":"m2"},"y2":{"field":"p2"}}},
{"data":{"values":[{"t":"2s","m":1032.4,"p":12052.26}]},"mark":{"type":"text","align":"center","baseline":"middle","fontSize":19,"color":"#111"},"encoding":{"text":{"field":"t"}}},
{"data":{"values":[{"m":1029.9,"m2":1045.6,"p":12050.1,"p2":12045.39}]},"mark":{"type":"rect","clip":true,"stroke":"#7f97a8","strokeWidth":1.2,"fill":{"gradient":"linear","x1":0,"y1":0,"x2":0,"y2":1,"stops":[{"offset":0,"color":"#ffffff"},{"offset":1,"color":"#c8d5ee"}]}},"encoding":{"x2":{"field":"m2"},"y2":{"field":"p2"}}},
{"data":{"values":[{"t":"12 050,2","m":1030.3,"p":12047.55}]},"mark":{"type":"text","clip":true,"align":"left","baseline":"middle","fontSize":19,"color":"#3b3be0"},"encoding":{"text":{"field":"t"}}}
]},
{"width":1396,"height":274,
"encoding":{"x":{"field":"m","type":"quantitative","scale":{"domain":[762.84,1044.64],"nice":false,"zero":false},"axis":{"orient":"bottom","offset":-34,"title":null,"grid":false,"domain":false,"values":[780,840,900,960,994,1020],"labelExpr":"datum.value==994?'':floor(datum.value/60)+':00'","labelFontSize":19,"labelColor":"#000","labelPadding":-1,"labelOverlap":false,"labelBound":false,"labelFlush":false,"tickColor":"#7f97a8","tickSize":6}},
"y":{"field":"p","type":"quantitative","scale":{"domain":[-17.45,110.74],"nice":false,"zero":false},"axis":{"orient":"right","offset":-78,"title":null,"grid":false,"domain":false,"values":[10,20,40,60,80,90,100],"labelExpr":"datum.value==10||datum.value==90?'':datum.value","labelFontSize":19,"labelColor":"#000","labelPadding":2,"labelOverlap":false,"labelBound":false,"labelFlush":false,"labelFontWeight":{"condition":{"test":"datum.value==100","value":"bold"},"value":"normal"},"tickColor":"#7f97a8","tickSize":5}}},
"layer":[
{"data":{"values":[{"m":762.84,"m2":1028.89,"p":110.74,"p2":-1.55}]},"mark":{"type":"rect","fill":{"gradient":"linear","x1":0,"y1":0,"x2":0,"y2":1,"stops":[{"offset":0,"color":"#e0e9fe"},{"offset":1,"color":"#d5e2fc"}]}},"encoding":{"x2":{"field":"m2"},"y2":{"field":"p2"}}},
{"data":{"values":[{"zone":"high","m":762.84,"m2":1028.89,"p":75,"p2":50},{"zone":"low","m":762.84,"m2":1028.89,"p":50,"p2":25}]},"mark":{"type":"rect"},"encoding":{"x2":{"field":"m2"},"y2":{"field":"p2"},"color":{"field":"zone","type":"nominal","legend":null,"scale":{"domain":["high","low"],"range":["#c6d7f0","#dacde0"]}}}},
{"data":{"values":[{"m":762.84,"m2":1028.89,"p":75},{"m":762.84,"m2":1028.89,"p":50},{"m":762.84,"m2":1028.89,"p":25}]},"mark":{"type":"rule","color":"#2222dd","strokeWidth":1,"clip":true},"encoding":{"x2":{"field":"m2"}}},
{"data":{"name":"rsiMa"},"mark":{"type":"line","color":"#e8706e","strokeWidth":1.2,"clip":true}},
{"data":{"name":"rsi"},"mark":{"type":"line","color":"#111","strokeWidth":1.1,"clip":true}},
{"data":{"values":[{"m":762.84,"m2":1028.89,"p":-1.55}]},"mark":{"type":"rule","color":"#7f97a8","strokeWidth":1.5,"clip":true},"encoding":{"x2":{"field":"m2"}}},
{"data":{"values":[{"m":1028.89,"p":110.74,"p2":-1.55}]},"mark":{"type":"rule","color":"#7f97a8","strokeWidth":1.5,"clip":true},"encoding":{"y2":{"field":"p2"}}},
{"data":{"values":[{"m":1029.7,"m2":1042.8,"p":61.6,"p2":50.4}]},"mark":{"type":"rect","stroke":"#7f97a8","strokeWidth":1.2,"fill":{"gradient":"linear","x1":0,"y1":0,"x2":0,"y2":1,"stops":[{"offset":0,"color":"#f4f7fc"},{"offset":1,"color":"#d6e2f2"}]}},"encoding":{"x2":{"field":"m2"},"y2":{"field":"p2"}}},
{"data":{"values":[{"t":"55,875","m":1030.3,"p":55.85}]},"mark":{"type":"text","align":"left","baseline":"middle","fontSize":19,"color":"#111"},"encoding":{"text":{"field":"t"}}},
{"data":{"values":[{"m":972.6,"m2":1015.4,"p":-4.8,"p2":-15.55}]},"mark":{"type":"rect","fill":"#ffff00","stroke":"#8a9aa5","strokeWidth":1},"encoding":{"x2":{"field":"m2"},"y2":{"field":"p2"}}},
{"data":{"values":[{"t":"mer. 22 févr. 2023 16:34","m":994,"p":-10.45}]},"mark":{"type":"text","align":"center","baseline":"middle","fontSize":19.4,"color":"#000"},"encoding":{"text":{"field":"t"}}},
{"data":{"values":[{"m":1037.8,"m2":1044.6,"p":-3.55,"p2":-15.55}]},"mark":{"type":"rect","fill":"#ffffff","stroke":"#7f97a8","strokeWidth":1.2},"encoding":{"x2":{"field":"m2"},"y2":{"field":"p2"}}},
{"data":{"values":[{"t":"⬆","m":1041.2,"p":-7.55}]},"mark":{"type":"text","font":"DejaVu Sans","align":"center","baseline":"middle","fontSize":14,"color":"#1060d0"},"encoding":{"text":{"field":"t"}}},
{"data":{"values":[{"t":"▪▪▪▪","m":1041.2,"p":-12.55}]},"mark":{"type":"text","font":"DejaVu Sans","align":"center","baseline":"middle","fontSize":11,"color":"#445"},"encoding":{"text":{"field":"t"}}},
{"data":{"values":[{"m":762.84,"m2":1044.64,"p":-15.55,"p2":-17.45}]},"mark":{"type":"rect","fill":"#4f6d7a"},"encoding":{"x2":{"field":"m2"},"y2":{"field":"p2"}}}
]}
]}
